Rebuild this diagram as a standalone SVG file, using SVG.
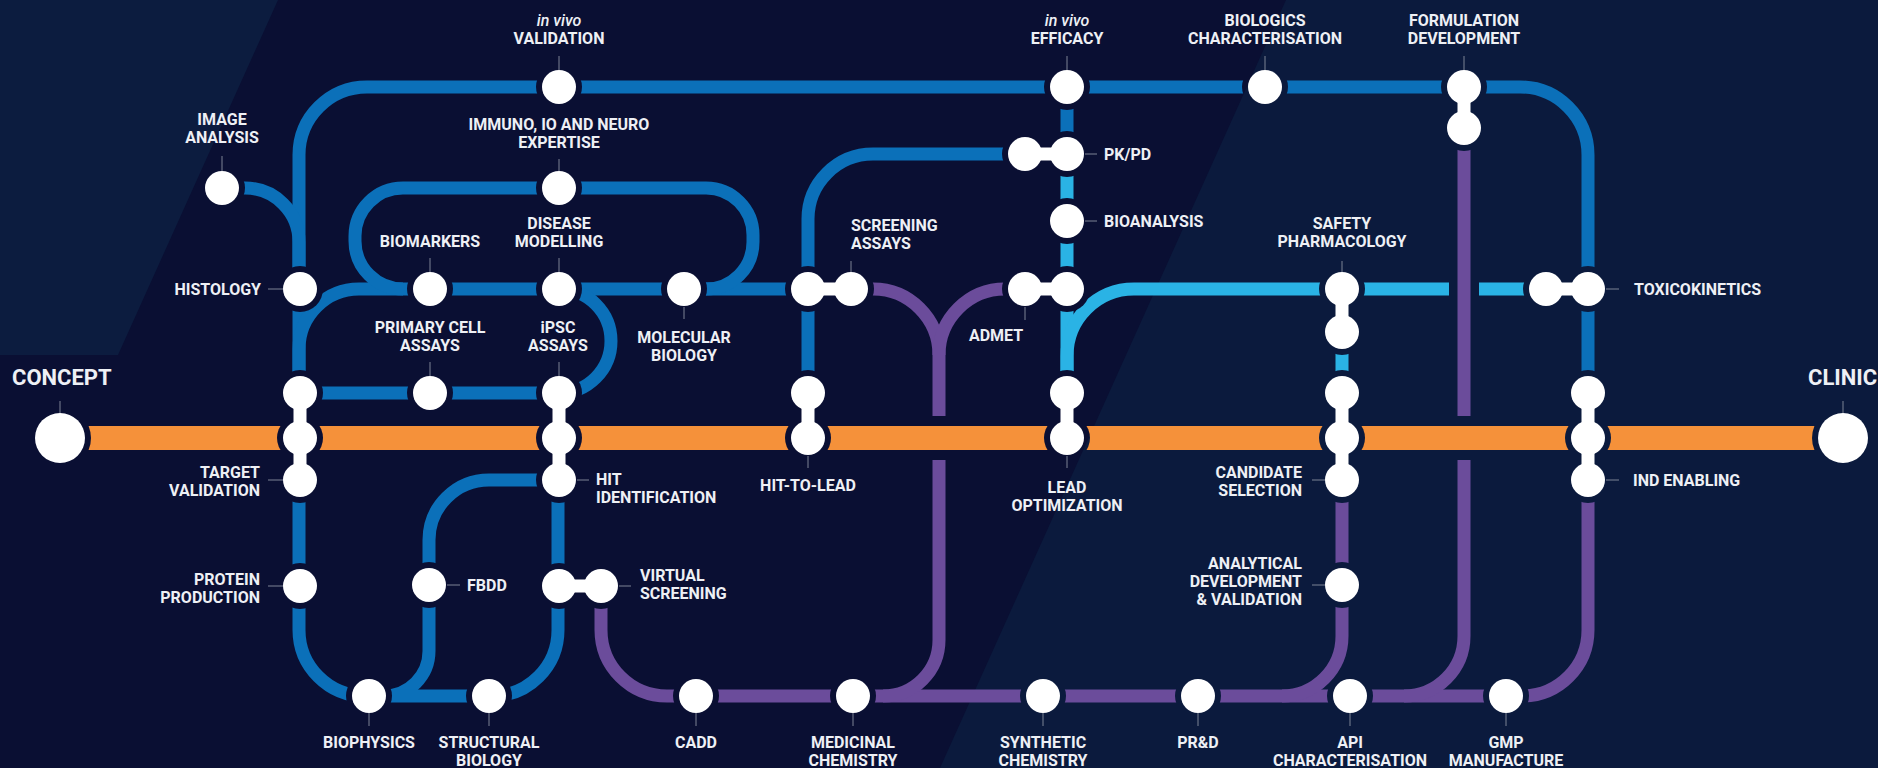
<svg xmlns="http://www.w3.org/2000/svg" xmlns:xlink="http://www.w3.org/1999/xlink" width="1878" height="768" viewBox="0 0 1878 768">
<style>
.ln{fill:none;stroke-width:13;stroke-linecap:butt}
.bl{stroke:#0b70b9}
.lb{stroke:#2ab3e5}
.pu{stroke:#6b4c9b}
.or{fill:none;stroke:#f5913a;stroke-width:24}
.n{fill:#ffffff}
.t{font-family:Roboto,"Liberation Sans",sans-serif;font-weight:700;font-size:16px;fill:#eef0f5}
.it{font-style:italic;font-weight:500}
.big{font-size:22px}
.m{text-anchor:middle}
.e{text-anchor:end}
.tk{stroke:#7d8395;stroke-width:1}
</style>
<defs>
<g id="cas" fill="#000">
<circle cx="60" cy="438" r="31"/><circle cx="1843" cy="438" r="31"/>
<circle cx="222" cy="188" r="23"/><circle cx="300" cy="289" r="23"/><circle cx="430" cy="289" r="23"/>
<circle cx="559" cy="289" r="23"/><circle cx="559" cy="188" r="23"/><circle cx="559" cy="87" r="23"/>
<circle cx="430" cy="393" r="23"/><circle cx="684" cy="289" r="23"/><circle cx="1067" cy="221" r="23"/>
<circle cx="1067" cy="87" r="23"/><circle cx="1265" cy="87" r="23"/><circle cx="300" cy="586" r="23"/>
<circle cx="429" cy="585" r="23"/><circle cx="369" cy="696" r="23"/><circle cx="489" cy="696" r="23"/>
<circle cx="696" cy="696" r="23"/><circle cx="853" cy="696" r="23"/><circle cx="1043" cy="696" r="23"/>
<circle cx="1198" cy="696" r="23"/><circle cx="1350" cy="696" r="23"/><circle cx="1506" cy="696" r="23"/>
<circle cx="1342" cy="585" r="23"/>
<circle cx="300" cy="393" r="23"/><circle cx="300" cy="438" r="23"/><circle cx="300" cy="480" r="23"/><rect x="287.5" y="393" width="25" height="87"/>
<circle cx="559" cy="393" r="23"/><circle cx="559" cy="438" r="23"/><circle cx="559" cy="480" r="23"/><rect x="546.5" y="393" width="25" height="87"/>
<circle cx="808" cy="393" r="23"/><circle cx="808" cy="438" r="23"/><rect x="795.5" y="393" width="25" height="45"/>
<circle cx="1067" cy="393" r="23"/><circle cx="1067" cy="438" r="23"/><rect x="1054.5" y="393" width="25" height="45"/>
<circle cx="1342" cy="393" r="23"/><circle cx="1342" cy="438" r="23"/><circle cx="1342" cy="480" r="23"/><rect x="1329.5" y="393" width="25" height="87"/>
<circle cx="1588" cy="393" r="23"/><circle cx="1588" cy="438" r="23"/><circle cx="1588" cy="480" r="23"/><rect x="1575.5" y="393" width="25" height="87"/>
<circle cx="808" cy="289" r="23"/><circle cx="851" cy="289" r="23"/><rect x="808" y="276.5" width="43" height="25"/>
<circle cx="1025" cy="289" r="23"/><circle cx="1067" cy="289" r="23"/><rect x="1025" y="276.5" width="42" height="25"/>
<circle cx="1025" cy="154" r="23"/><circle cx="1067" cy="154" r="23"/><rect x="1025" y="141.5" width="42" height="25"/>
<circle cx="1342" cy="289" r="23"/><circle cx="1342" cy="332" r="23"/><rect x="1329.5" y="289" width="25" height="43"/>
<circle cx="1546" cy="289" r="23"/><circle cx="1588" cy="289" r="23"/><rect x="1546" y="276.5" width="42" height="25"/>
<circle cx="1464" cy="87" r="23"/><circle cx="1464" cy="128" r="23"/><rect x="1451.5" y="87" width="25" height="41"/>
<circle cx="559" cy="586" r="23"/><circle cx="601" cy="586" r="23"/><rect x="559" y="573.5" width="42" height="25"/>
</g>
<mask id="mN" maskUnits="userSpaceOnUse" x="0" y="0" width="1878" height="768"><rect width="1878" height="768" fill="#fff"/><use href="#cas"/></mask>
<mask id="mLB" maskUnits="userSpaceOnUse" x="0" y="0" width="1878" height="768"><rect width="1878" height="768" fill="#fff"/><use href="#cas"/><rect x="1449" y="270" width="30" height="40" fill="#000"/></mask>
<mask id="mPU" maskUnits="userSpaceOnUse" x="0" y="0" width="1878" height="768"><rect width="1878" height="768" fill="#fff"/><use href="#cas"/><rect x="0" y="416" width="1878" height="44" fill="#000"/></mask>
</defs>

<g id="background">
<rect width="1878" height="768" fill="#0a0f33"/>
<polygon points="0,0 278,0 118,355 0,355" fill="#0c1c3f"/>
<polygon points="1286,0 1878,0 1878,768 940,768" fill="#0b1a3d"/>
</g>

<g id="connectors">
<g id="blue-lines" mask="url(#mN)">
<path class="ln bl" d="M365,696 A66 66 0 0 1 299,630 L299,155 A68 68 0 0 1 367,87 L1520,87 A68 68 0 0 1 1588,155 L1588,440"/>
<path class="ln bl" d="M222,188 L245,188 A54 54 0 0 1 299,242 L299,270"/>
<path class="ln bl" d="M299,393 L299,349 A60 60 0 0 1 359,289 L808,289"/>
<path class="ln bl" d="M403,289 A48 48 0 0 1 355,241 L355,236 A48 48 0 0 1 403,188 L706,188 A47 47 0 0 1 753,235 L753,242 A47 47 0 0 1 706,289"/>
<path class="ln bl" d="M300,393 L559,393 A52 52 0 0 0 559,289"/>
<path class="ln bl" d="M559,480 L489,480 A60 60 0 0 0 429,540 L429,651 A45 45 0 0 1 384,696"/>
<path class="ln bl" d="M369,696 L492,696 A66 66 0 0 0 558,630 L558,438"/>
<path class="ln bl" d="M808,438 L808,219 A65 65 0 0 1 873,154 L1067,154"/>
<path class="ln bl" d="M1067,87 L1067,154"/>
</g>
<g id="lightblue-lines" mask="url(#mLB)">
<path class="ln lb" d="M1067,154 L1067,438"/>
<path class="ln lb" d="M1067,393 L1067,356 A67 67 0 0 1 1134,289 L1588,289"/>
<path class="ln lb" d="M1342,289 L1342,393"/>
</g>
<g id="purple-lines" mask="url(#mPU)">
<path class="ln pu" d="M601,586 L601,630 A66 66 0 0 0 667,696 L1506,696"/>
<path class="ln pu" d="M851,289 L873,289 A66 66 0 0 1 939,355 L939,640 A56 56 0 0 1 883,696"/>
<path class="ln pu" d="M1025,289 L1005,289 A66 66 0 0 0 939,355"/>
<path class="ln pu" d="M1342,480 L1342,636 A60 60 0 0 1 1282,696"/>
<path class="ln pu" d="M1464,128 L1464,636 A60 60 0 0 1 1404,696"/>
<path class="ln pu" d="M1588,480 L1588,630 A66 66 0 0 1 1522,696 L1506,696"/>
</g>
<g id="orange-line" mask="url(#mN)">
<path class="or" d="M60,438 L1843,438"/>
</g>
</g>

<g id="n-concept"><circle class="n" cx="60" cy="438" r="25"/><line class="tk" x1="60" y1="401" x2="60" y2="413"/><text class="t big" x="12" y="385">CONCEPT</text></g>
<g id="n-clinic"><circle class="n" cx="1843" cy="438" r="25"/><line class="tk" x1="1843" y1="401" x2="1843" y2="413"/><text class="t big" x="1808" y="385">CLINIC</text></g>

<g id="n-image-analysis"><circle class="n" cx="222" cy="188" r="17"/><line class="tk" x1="222" y1="156" x2="222" y2="171"/><text class="t m" x="222" y="125">IMAGE</text><text class="t m" x="222" y="143">ANALYSIS</text></g>
<g id="n-histology"><circle class="n" cx="300" cy="289" r="17"/><line class="tk" x1="268" y1="289" x2="283" y2="289"/><text class="t e" x="261" y="295">HISTOLOGY</text></g>
<g id="n-in-vivo-validation"><circle class="n" cx="559" cy="87" r="17"/><line class="tk" x1="559" y1="56" x2="559" y2="70"/><text class="t m it" x="559" y="26">in vivo</text><text class="t m" x="559" y="44">VALIDATION</text></g>
<g id="n-immuno"><circle class="n" cx="559" cy="188" r="17"/><line class="tk" x1="559" y1="159" x2="559" y2="171"/><text class="t m" x="559" y="130">IMMUNO, IO AND NEURO</text><text class="t m" x="559" y="148">EXPERTISE</text></g>
<g id="n-biomarkers"><circle class="n" cx="430" cy="289" r="17"/><line class="tk" x1="430" y1="258" x2="430" y2="272"/><text class="t m" x="430" y="247">BIOMARKERS</text></g>
<g id="n-disease-modelling"><circle class="n" cx="559" cy="289" r="17"/><line class="tk" x1="559" y1="258" x2="559" y2="272"/><text class="t m" x="559" y="229">DISEASE</text><text class="t m" x="559" y="247">MODELLING</text></g>
<g id="n-primary-cell-assays"><circle class="n" cx="430" cy="393" r="17"/><line class="tk" x1="430" y1="362" x2="430" y2="376"/><text class="t m" x="430" y="333">PRIMARY CELL</text><text class="t m" x="430" y="351">ASSAYS</text></g>
<g id="n-ipsc-assays"><circle class="n" cx="559" cy="393" r="17"/><line class="tk" x1="559" y1="362" x2="559" y2="376"/><text class="t m" x="558" y="333">iPSC</text><text class="t m" x="558" y="351">ASSAYS</text></g>
<g id="n-hit-identification"><rect class="n" x="552.5" y="393" width="13" height="87"/><circle class="n" cx="559" cy="438" r="17"/><circle class="n" cx="559" cy="480" r="17"/><line class="tk" x1="577" y1="480" x2="589" y2="480"/><text class="t" x="596" y="485">HIT</text><text class="t" x="596" y="503">IDENTIFICATION</text></g>
<g id="n-molecular-biology"><circle class="n" cx="684" cy="289" r="17"/><line class="tk" x1="684" y1="307" x2="684" y2="319"/><text class="t m" x="684" y="343">MOLECULAR</text><text class="t m" x="684" y="361">BIOLOGY</text></g>
<g id="n-target-validation"><rect class="n" x="293.5" y="393" width="13" height="87"/><circle class="n" cx="300" cy="393" r="17"/><circle class="n" cx="300" cy="438" r="17"/><circle class="n" cx="300" cy="480" r="17"/><line class="tk" x1="268" y1="480" x2="283" y2="480"/><text class="t e" x="260" y="478">TARGET</text><text class="t e" x="260" y="496">VALIDATION</text></g>
<g id="n-protein-production"><circle class="n" cx="300" cy="586" r="17"/><line class="tk" x1="268" y1="586" x2="283" y2="586"/><text class="t e" x="260" y="585">PROTEIN</text><text class="t e" x="260" y="603">PRODUCTION</text></g>
<g id="n-fbdd"><circle class="n" cx="429" cy="585" r="17"/><line class="tk" x1="447" y1="585" x2="460" y2="585"/><text class="t" x="467" y="591">FBDD</text></g>
<g id="n-biophysics"><circle class="n" cx="369" cy="696" r="17"/><line class="tk" x1="369" y1="713" x2="369" y2="726"/><text class="t m" x="369" y="748">BIOPHYSICS</text></g>
<g id="n-structural-biology"><circle class="n" cx="489" cy="696" r="17"/><line class="tk" x1="489" y1="713" x2="489" y2="726"/><text class="t m" x="489" y="748">STRUCTURAL</text><text class="t m" x="489" y="766">BIOLOGY</text></g>
<g id="n-virtual-screening"><rect class="n" x="559" y="579.5" width="42" height="13"/><circle class="n" cx="559" cy="586" r="17"/><circle class="n" cx="601" cy="586" r="17"/><line class="tk" x1="619" y1="586" x2="631" y2="586"/><text class="t" x="640" y="581">VIRTUAL</text><text class="t" x="640" y="599">SCREENING</text></g>
<g id="n-screening-assays"><rect class="n" x="808" y="282.5" width="43" height="13"/><circle class="n" cx="808" cy="289" r="17"/><circle class="n" cx="851" cy="289" r="17"/><line class="tk" x1="851" y1="261" x2="851" y2="272"/><text class="t" x="851" y="231">SCREENING</text><text class="t" x="851" y="249">ASSAYS</text></g>
<g id="n-hit-to-lead"><rect class="n" x="801.5" y="393" width="13" height="45"/><circle class="n" cx="808" cy="393" r="17"/><circle class="n" cx="808" cy="438" r="17"/><line class="tk" x1="808" y1="456" x2="808" y2="468"/><text class="t m" x="808" y="491">HIT-TO-LEAD</text></g>
<g id="n-in-vivo-efficacy"><circle class="n" cx="1067" cy="87" r="17"/><line class="tk" x1="1067" y1="56" x2="1067" y2="70"/><text class="t m it" x="1067" y="26">in vivo</text><text class="t m" x="1067" y="44">EFFICACY</text></g>
<g id="n-pk-pd"><rect class="n" x="1025" y="147.5" width="42" height="13"/><circle class="n" cx="1025" cy="154" r="17"/><circle class="n" cx="1067" cy="154" r="17"/><line class="tk" x1="1085" y1="154" x2="1097" y2="154"/><text class="t" x="1104" y="160">PK/PD</text></g>
<g id="n-bioanalysis"><circle class="n" cx="1067" cy="221" r="17"/><line class="tk" x1="1085" y1="221" x2="1097" y2="221"/><text class="t" x="1104" y="227">BIOANALYSIS</text></g>
<g id="n-admet"><rect class="n" x="1025" y="282.5" width="42" height="13"/><circle class="n" cx="1025" cy="289" r="17"/><circle class="n" cx="1067" cy="289" r="17"/><line class="tk" x1="1025" y1="307" x2="1025" y2="320"/><text class="t m" x="996" y="341">ADMET</text></g>
<g id="n-lead-optimization"><rect class="n" x="1060.5" y="393" width="13" height="45"/><circle class="n" cx="1067" cy="393" r="17"/><circle class="n" cx="1067" cy="438" r="17"/><line class="tk" x1="1067" y1="456" x2="1067" y2="468"/><text class="t m" x="1067" y="493">LEAD</text><text class="t m" x="1067" y="511">OPTIMIZATION</text></g>
<g id="n-biologics-characterisation"><circle class="n" cx="1265" cy="87" r="17"/><line class="tk" x1="1265" y1="56" x2="1265" y2="70"/><text class="t m" x="1265" y="26">BIOLOGICS</text><text class="t m" x="1265" y="44">CHARACTERISATION</text></g>
<g id="n-formulation-development"><rect class="n" x="1457.5" y="87" width="13" height="41"/><circle class="n" cx="1464" cy="87" r="17"/><circle class="n" cx="1464" cy="128" r="17"/><line class="tk" x1="1464" y1="56" x2="1464" y2="70"/><text class="t m" x="1464" y="26">FORMULATION</text><text class="t m" x="1464" y="44">DEVELOPMENT</text></g>
<g id="n-safety-pharmacology"><rect class="n" x="1335.5" y="289" width="13" height="43"/><circle class="n" cx="1342" cy="289" r="17"/><circle class="n" cx="1342" cy="332" r="17"/><line class="tk" x1="1342" y1="261" x2="1342" y2="272"/><text class="t m" x="1342" y="229">SAFETY</text><text class="t m" x="1342" y="247">PHARMACOLOGY</text></g>
<g id="n-toxicokinetics"><rect class="n" x="1546" y="282.5" width="42" height="13"/><circle class="n" cx="1546" cy="289" r="17"/><circle class="n" cx="1588" cy="289" r="17"/><line class="tk" x1="1606" y1="289" x2="1619" y2="289"/><text class="t" x="1634" y="295">TOXICOKINETICS</text></g>
<g id="n-candidate-selection"><rect class="n" x="1335.5" y="393" width="13" height="87"/><circle class="n" cx="1342" cy="393" r="17"/><circle class="n" cx="1342" cy="438" r="17"/><circle class="n" cx="1342" cy="480" r="17"/><line class="tk" x1="1312" y1="480" x2="1325" y2="480"/><text class="t e" x="1302" y="478">CANDIDATE</text><text class="t e" x="1302" y="496">SELECTION</text></g>
<g id="n-analytical-development"><circle class="n" cx="1342" cy="585" r="17"/><line class="tk" x1="1312" y1="585" x2="1325" y2="585"/><text class="t e" x="1302" y="569">ANALYTICAL</text><text class="t e" x="1302" y="587">DEVELOPMENT</text><text class="t e" x="1302" y="605">&amp; VALIDATION</text></g>
<g id="n-ind-enabling"><rect class="n" x="1581.5" y="393" width="13" height="87"/><circle class="n" cx="1588" cy="393" r="17"/><circle class="n" cx="1588" cy="438" r="17"/><circle class="n" cx="1588" cy="480" r="17"/><line class="tk" x1="1606" y1="480" x2="1619" y2="480"/><text class="t" x="1633" y="486">IND ENABLING</text></g>
<g id="n-cadd"><circle class="n" cx="696" cy="696" r="17"/><line class="tk" x1="696" y1="713" x2="696" y2="726"/><text class="t m" x="696" y="748">CADD</text></g>
<g id="n-medicinal-chemistry"><circle class="n" cx="853" cy="696" r="17"/><line class="tk" x1="853" y1="713" x2="853" y2="726"/><text class="t m" x="853" y="748">MEDICINAL</text><text class="t m" x="853" y="766">CHEMISTRY</text></g>
<g id="n-synthetic-chemistry"><circle class="n" cx="1043" cy="696" r="17"/><line class="tk" x1="1043" y1="713" x2="1043" y2="726"/><text class="t m" x="1043" y="748">SYNTHETIC</text><text class="t m" x="1043" y="766">CHEMISTRY</text></g>
<g id="n-prd"><circle class="n" cx="1198" cy="696" r="17"/><line class="tk" x1="1198" y1="713" x2="1198" y2="726"/><text class="t m" x="1198" y="748">PR&amp;D</text></g>
<g id="n-api-characterisation"><circle class="n" cx="1350" cy="696" r="17"/><line class="tk" x1="1350" y1="713" x2="1350" y2="726"/><text class="t m" x="1350" y="748">API</text><text class="t m" x="1350" y="766">CHARACTERISATION</text></g>
<g id="n-gmp-manufacture"><circle class="n" cx="1506" cy="696" r="17"/><line class="tk" x1="1506" y1="713" x2="1506" y2="726"/><text class="t m" x="1506" y="748">GMP</text><text class="t m" x="1506" y="766">MANUFACTURE</text></g>
</svg>
